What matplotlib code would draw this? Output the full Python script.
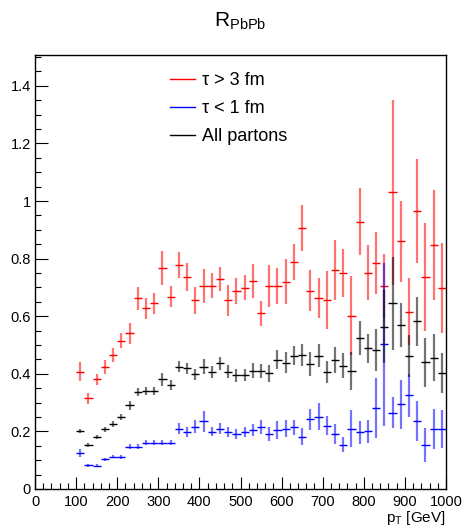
import numpy as np
import matplotlib
matplotlib.use('Agg')
import matplotlib.pyplot as plt
from matplotlib.lines import Line2D
from matplotlib.ticker import MultipleLocator, FormatStrFormatter

plt.rcParams['font.family'] = ['Liberation Sans', 'DejaVu Sans']

# bin centres (20 GeV bins from 100 to 1000)
pt = np.arange(110, 1000, 20)
half_bin = 10

r_long = [0.407, 0.315, 0.381, 0.425, 0.465, 0.515, 0.540, 0.663, 0.628, 0.645,
          0.766, 0.668, 0.778, 0.735, 0.655, 0.705, 0.706, 0.729, 0.655, 0.688,
          0.699, 0.722, 0.610, 0.705, 0.705, 0.720, 0.789, 0.907, 0.689, 0.662,
          0.656, 0.760, 0.751, 0.602, 0.928, 0.751, 0.786, 0.705, 1.030, 0.860,
          0.616, 0.965, 0.737, 0.847, 0.697]
e_long = [0.033, 0.020, 0.019, 0.024, 0.023, 0.026, 0.035, 0.040, 0.036, 0.036,
          0.059, 0.036, 0.046, 0.049, 0.047, 0.058, 0.044, 0.043, 0.055, 0.045,
          0.043, 0.058, 0.044, 0.073, 0.063, 0.079, 0.062, 0.080, 0.071, 0.069,
          0.100, 0.103, 0.083, 0.137, 0.116, 0.095, 0.108, 0.110, 0.320, 0.140,
          0.116, 0.180, 0.187, 0.190, 0.157]

r_short = [0.124, 0.083, 0.081, 0.103, 0.112, 0.111, 0.147, 0.147, 0.161, 0.161,
           0.161, 0.161, 0.209, 0.199, 0.216, 0.235, 0.199, 0.210, 0.199, 0.190,
           0.199, 0.205, 0.214, 0.191, 0.205, 0.210, 0.214, 0.182, 0.242, 0.251,
           0.220, 0.191, 0.153, 0.210, 0.197, 0.200, 0.282, 0.502, 0.265, 0.294,
           0.326, 0.237, 0.153, 0.208, 0.210]
e_short = [0.014, 0.005, 0.005, 0.006, 0.006, 0.006, 0.009, 0.009, 0.008, 0.008,
           0.008, 0.008, 0.019, 0.018, 0.023, 0.037, 0.016, 0.020, 0.017, 0.018,
           0.018, 0.022, 0.024, 0.026, 0.031, 0.029, 0.026, 0.029, 0.037, 0.046,
           0.032, 0.035, 0.026, 0.064, 0.040, 0.039, 0.104, 0.283, 0.054, 0.086,
           0.075, 0.070, 0.058, 0.069, 0.066]

r_all = [0.202, 0.153, 0.179, 0.207, 0.226, 0.251, 0.290, 0.337, 0.339, 0.340,
         0.381, 0.361, 0.425, 0.419, 0.398, 0.424, 0.407, 0.436, 0.407, 0.395,
         0.396, 0.411, 0.410, 0.402, 0.448, 0.439, 0.463, 0.465, 0.434, 0.463,
         0.407, 0.448, 0.428, 0.410, 0.525, 0.488, 0.483, 0.564, 0.645, 0.569,
         0.462, 0.583, 0.440, 0.456, 0.404]
e_all = [0.008, 0.006, 0.007, 0.008, 0.009, 0.010, 0.015, 0.014, 0.014, 0.015,
         0.023, 0.018, 0.020, 0.020, 0.020, 0.026, 0.020, 0.024, 0.022, 0.022,
         0.022, 0.027, 0.025, 0.030, 0.033, 0.035, 0.033, 0.039, 0.040, 0.040,
         0.039, 0.046, 0.044, 0.065, 0.058, 0.051, 0.073, 0.127, 0.162, 0.077,
         0.073, 0.085, 0.085, 0.082, 0.069]

series = [
    (r_long, e_long, '#ff0000', 'τ > 3 fm'),
    (r_short, e_short, '#0000ff', 'τ < 1 fm'),
    (r_all, e_all, '#000000', 'All partons'),
]

W, H = 467, 531
fig = plt.figure(figsize=(W / 100, H / 100), dpi=100)
ax = fig.add_axes([35 / W, 1 - 489 / H, 411 / W, 434 / H])

handles = []
for y, e, c, lab in series:
    y = np.array(y)
    e = np.array(e)
    ax.vlines(pt, y - e, y + e, color=c, lw=1.6, alpha=0.55)
    ax.hlines(y, pt - half_bin, pt + half_bin, color=c, lw=1.0)
    handles.append(Line2D([], [], color=c, lw=1.0, label=lab))

ax.set_xlim(0, 1000)
ax.set_ylim(0, 1.507)

ax.xaxis.set_major_locator(MultipleLocator(100))
ax.xaxis.set_minor_locator(MultipleLocator(20))
ax.yaxis.set_major_locator(MultipleLocator(0.2))
ax.yaxis.set_minor_locator(MultipleLocator(0.05))
ax.yaxis.set_major_formatter(FormatStrFormatter('%g'))
ax.tick_params(which='both', direction='in', top=False, right=False, labelsize=10.5)
ax.tick_params(which='major', length=9, width=0.8)
ax.tick_params(which='minor', length=4.5, width=0.8)
ax.tick_params(axis='x', pad=4)
ax.tick_params(axis='y', pad=3)
for s in ax.spines.values():
    s.set_linewidth(1.0)

fig.text(240 / W, 1 - 21 / H, r'$\mathregular{R_{PbPb}}$', ha='center', va='center', fontsize=15)
fig.text(446 / W, 1 - 518 / H, r'$\mathregular{p_{T}}$ [GeV]', ha='right', va='center', fontsize=11)

fig.legend(handles=handles, loc='upper left', bbox_to_anchor=(170 / W, 1 - 72 / H),
           frameon=False, fontsize=13, handlelength=1.4, handletextpad=0.4,
           labelspacing=0.62, borderpad=0, borderaxespad=0)

fig.savefig('out.png', dpi=100)
